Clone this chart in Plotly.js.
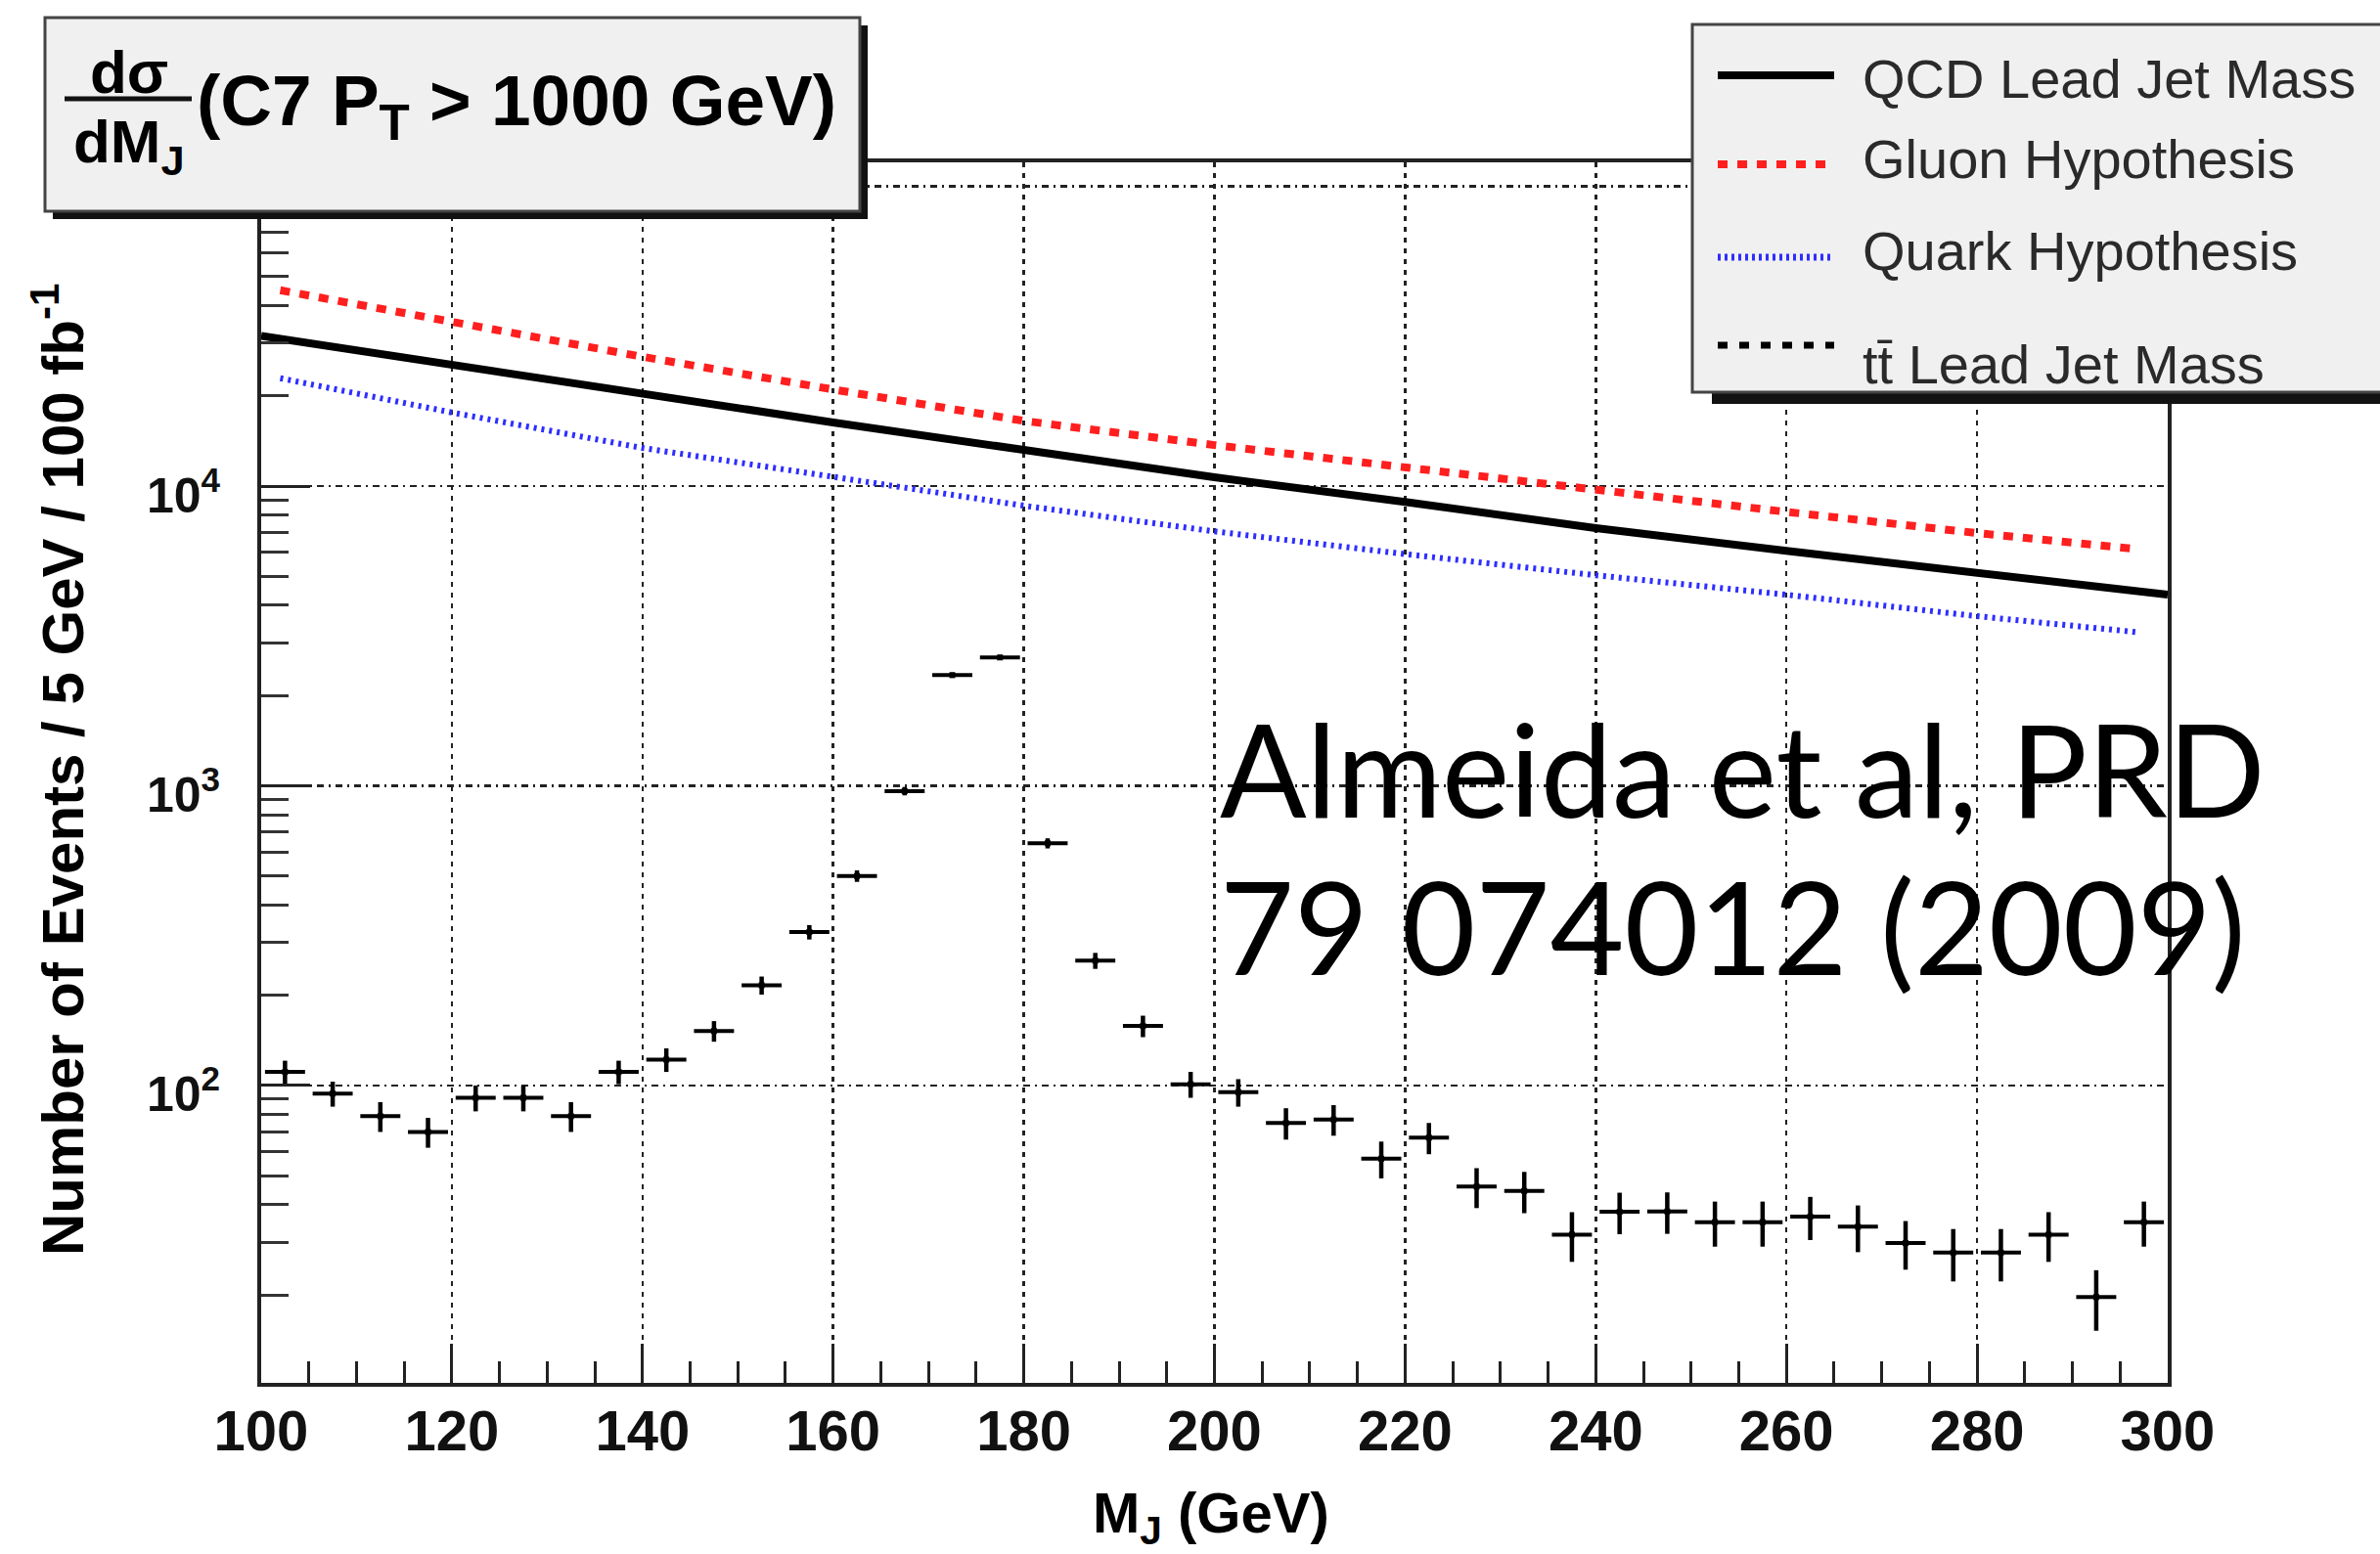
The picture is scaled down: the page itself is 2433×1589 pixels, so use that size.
<!DOCTYPE html>
<html>
<head>
<meta charset="utf-8">
<script src="https://cdn.plot.ly/plotly-3.0.1.min.js"></script>
<style>
  html, body { margin: 0; padding: 0; background: #ffffff; }
  #chart { width: 2433px; height: 1589px; }
</style>
</head>
<body>
<div id="chart"></div>
<script>
// ---------------- data ----------------
const curveMass = [100, 120, 140, 160, 180, 200, 220, 240, 260, 280, 300];
const qcdLeadJetMass = [31700, 25300, 20200, 16300, 13200, 10700, 8850, 7240, 6080, 5100, 4340];

const hypothesisMass = [102, 120, 140, 160, 180, 200, 220, 240, 260, 280, 297];
const gluonHypothesis = [45000, 35100, 27000, 21000, 16500, 13700, 11500, 9660, 8200, 6970, 6150];
const quarkHypothesis = [22900, 17600, 13400, 10700, 8600, 7060, 5930, 5040, 4340, 3680, 3250];

const ttbarBinCenters = [102.5, 107.5, 112.5, 117.5, 122.5, 127.5, 132.5, 137.5, 142.5, 147.5,
                         152.5, 157.5, 162.5, 167.5, 172.5, 177.5, 182.5, 187.5, 192.5, 197.5,
                         202.5, 207.5, 212.5, 217.5, 222.5, 227.5, 232.5, 237.5, 242.5, 247.5,
                         252.5, 257.5, 262.5, 267.5, 272.5, 277.5, 282.5, 287.5, 292.5, 297.5];
const ttbarEvents = [111, 94, 79, 70, 91, 91, 79, 111, 122, 152,
                     216, 325, 500, 960, 2340, 2680, 643, 261, 158, 101,
                     95, 75, 77, 57, 67, 46, 44.5, 31.8, 37.9, 38,
                     35, 35, 36.5, 33.8, 29.8, 27.7, 27.7, 31.8, 19.7, 35];
const ttbarErrors = [10, 9, 9, 8, 9, 9, 9, 10, 11, 12,
                     15, 18, 22, 31, 48, 52, 25, 16, 13, 10,
                     10, 9, 9, 8, 8, 7, 7, 6, 6, 6,
                     6, 6, 6, 6, 5.5, 5.5, 5.5, 6, 4.5, 6];

const xTickVals = [100, 120, 140, 160, 180, 200, 220, 240, 260, 280, 300];
const xTickText = ['100', '120', '140', '160', '180', '200', '220', '240', '260', '280', '300'];
const yTickVals = [100, 1000, 10000, 100000];
const yTickText = ['10<sup>2</sup>', '10<sup>3</sup>', '10<sup>4</sup>', '10<sup>5</sup>'];

const legendLabels = ['QCD Lead Jet Mass', 'Gluon Hypothesis', 'Quark Hypothesis', 'tt\u0304 Lead Jet Mass'];
const titleNumerator = 'd\u03c3';
const titleDenominator = 'dM<sub>J</sub>';
const titleText = '(C7 P<sub>T</sub> > 1000 GeV)';
const xAxisTitle = 'M<sub>J</sub> (GeV)';
const yAxisTitle = 'Number of Events / 5 GeV / 100 fb<sup>-1</sup>';
const citationLines = ['Almeida et al, PRD', '79 074012 (2009)'];

// ---------------- geometry helpers ----------------
const W = 2433, H = 1589;
const PL = 267, PR = 2216, PT = 166, PB = 1414;
const PW = PR - PL, PH = PB - PT;
const X = px => (px - PL) / PW;
const Y = py => (PB - py) / PH;

// minor tick positions
const xMinor = [];
for (let v = 105; v < 300; v += 5) if (v % 20 !== 0) xMinor.push(v);
const yMinor = [];
for (let e = 1; e <= 5; e++) for (let d = 2; d <= 9; d++) yMinor.push(d * Math.pow(10, e));

const HELV = 'Liberation Sans, Arial, Helvetica, sans-serif';

// ---------------- traces ----------------
const traces = [
  {
    x: ttbarBinCenters, y: ttbarEvents, type: 'scatter', mode: 'markers',
    marker: { symbol: 'square', size: 6, color: '#000' },
    error_x: { type: 'constant', value: 2.1, width: 0, thickness: 4, color: '#000' },
    error_y: { type: 'data', array: ttbarErrors, visible: true, width: 0, thickness: 4.5, color: '#000' },
    showlegend: false, hoverinfo: 'skip'
  },
  {
    x: hypothesisMass, y: quarkHypothesis, type: 'scatter', mode: 'lines',
    line: { color: '#2e2eff', width: 6, dash: '3px,5px' }, showlegend: false, hoverinfo: 'skip'
  },
  {
    x: hypothesisMass, y: gluonHypothesis, type: 'scatter', mode: 'lines',
    line: { color: '#ff1f1f', width: 8, dash: '10px,10px' }, showlegend: false, hoverinfo: 'skip'
  },
  {
    x: curveMass, y: qcdLeadJetMass, type: 'scatter', mode: 'lines',
    line: { color: '#000', width: 8 }, showlegend: false, hoverinfo: 'skip'
  }
];

// ---------------- shapes ----------------
const shapes = [];
function rect(x0, y0, x1, y1, fill, lineColor, lw) {
  shapes.push({ type: 'rect', xref: 'paper', yref: 'paper', layer: 'above',
    x0: X(x0), x1: X(x1), y0: Y(y1), y1: Y(y0),
    fillcolor: fill, line: { color: lineColor, width: lw } });
}
function seg(x0, y0, x1, y1, color, lw, dash) {
  shapes.push({ type: 'line', xref: 'paper', yref: 'paper', layer: 'above',
    x0: X(x0), x1: X(x1), y0: Y(y0), y1: Y(y1),
    line: { color: color, width: lw, dash: dash || 'solid' } });
}
// title box with shadow
rect(54, 26, 887, 224, '#111', '#111', 0);
rect(46, 18, 879, 216, '#f0f0f0', '#444', 3);
seg(66, 101, 196, 101, '#111', 5);
// legend box with shadow
rect(1750, 45, 2460, 413, '#111', '#111', 0);
rect(1730, 25, 2450, 401, '#f0f0f0', '#444', 3);
seg(1756, 77, 1875, 77, '#000', 8);
seg(1756, 168, 1875, 168, '#ff1f1f', 8, '10px,10px');
seg(1756, 263, 1875, 263, '#2e2eff', 7, '3px,4px');
seg(1756, 353, 1875, 353, '#000', 7, '10px,12px');

// ---------------- annotations ----------------
const annotations = [];
function txt(text, x, y, opts) {
  annotations.push(Object.assign({
    text: text, xref: 'paper', yref: 'paper', x: X(x), y: Y(y),
    showarrow: false, xanchor: 'left', yanchor: 'middle', borderpad: 0,
    font: { family: HELV, size: 54, color: '#000' }
  }, opts || {}));
}
// title: fraction numerator sits on the bar, denominator hangs below it
txt(titleNumerator, 132, 109, { xanchor: 'center', yanchor: 'bottom', font: { family: HELV, size: 62, color: '#000', weight: 'bold' } });
txt(titleDenominator, 132, 109, { xanchor: 'center', yanchor: 'top', font: { family: HELV, size: 62, color: '#000', weight: 'bold' } });
txt(titleText, 200, 108, { font: { family: HELV, size: 73, color: '#000', weight: 'bold' } });
// legend labels
const legendY = [80, 163, 257, 372];
legendLabels.forEach((lab, i) => txt(lab, 1903, legendY[i], { font: { family: HELV, size: 56, color: '#2a2a2a' } }));
// citation
txt(citationLines[0], 1246, 785, { font: { family: 'Lato, Carlito, sans-serif', size: 131, color: '#000' } });
txt(citationLines[1], 1246, 946, { font: { family: 'Lato, Carlito, sans-serif', size: 131, color: '#000' } });
// axis titles
txt(xAxisTitle, 1238, 1551, { xanchor: 'center', font: { family: HELV, size: 58, color: '#000', weight: 'bold' } });
txt(yAxisTitle, 60, 787, { xanchor: 'center', textangle: -90, font: { family: HELV, size: 60, color: '#000', weight: 'bold' } });

// ---------------- layout ----------------
const layout = {
  width: W, height: H,
  margin: { l: PL, r: W - PR, t: PT, b: H - PB, pad: 0 },
  paper_bgcolor: '#ffffff', plot_bgcolor: '#ffffff',
  showlegend: false, hovermode: false,
  xaxis: {
    type: 'linear', range: [100, 300], fixedrange: true,
    tickmode: 'array', tickvals: xTickVals, ticktext: xTickText,
    ticks: 'inside', ticklen: 40, tickwidth: 3, tickcolor: '#222',
    tickfont: { family: HELV, size: 58, color: '#111', weight: 'bold' },
    ticklabelstandoff: -5,
    showgrid: true, gridcolor: '#222', gridwidth: 2.5, griddash: '5px,6px',
    showline: true, linecolor: '#222', linewidth: 4, mirror: true,
    zeroline: false,
    minor: { tickmode: 'array', tickvals: xMinor, ticks: 'inside', ticklen: 22, tickwidth: 3, tickcolor: '#222', showgrid: false }
  },
  yaxis: {
    type: 'log', range: [1.008, 5.08], fixedrange: true,
    tickmode: 'array', tickvals: yTickVals, ticktext: yTickText,
    ticks: 'inside', ticklen: 50, tickwidth: 3, tickcolor: '#222',
    tickfont: { family: HELV, size: 50, color: '#111', weight: 'bold' },
    ticklabelstandoff: 28, ticklabelshift: 9,
    showgrid: true, gridcolor: '#222', gridwidth: 2.5, griddash: '7px,5px,2px,5px',
    showline: true, linecolor: '#222', linewidth: 4, mirror: true,
    zeroline: false,
    minor: { tickmode: 'array', tickvals: yMinor, ticks: 'inside', ticklen: 28, tickwidth: 3, tickcolor: '#333', showgrid: false }
  },
  shapes: shapes,
  annotations: annotations
};

Plotly.newPlot('chart', traces, layout, { staticPlot: true, displayModeBar: false });
</script>
</body>
</html>
